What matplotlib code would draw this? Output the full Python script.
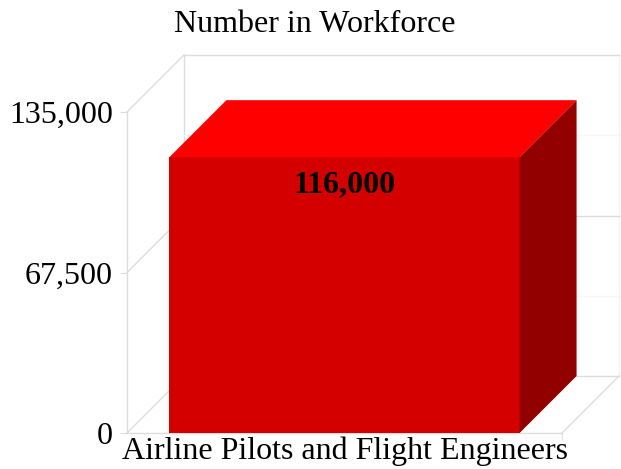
import matplotlib.pyplot as plt
from matplotlib.patches import Polygon
from matplotlib.ticker import FuncFormatter

# ------------------------
# Data
# ------------------------

categories = ["Airline Pilots and Flight Engineers"]
values = [116000]
y_ticks = [0, 67500, 135000]
minor_ticks = [33750, 101250]
title = "Number in Workforce"

FRONT = "#d40000"
TOP = "#ff0000"
SIDE = "#930000"
GRID = "#dcdcdc"
FAINT = "#f5f5f5"

plt.rcParams["font.family"] = ["Liberation Serif", "DejaVu Serif"]

W, H, DPI = 621, 469, 100
fig = plt.figure(figsize=(W / DPI, H / DPI), dpi=DPI)

# front plane of the 3d box, in pixel units of the figure
left, bottom, right, top = 127, 433, 562, 112
ax = fig.add_axes([left / W, 1 - bottom / H, (right - left) / W, (bottom - top) / H])
ax.set_xlim(-0.5, 0.5)
ax.set_ylim(0, y_ticks[-1])
for s in ax.spines.values():
    s.set_visible(False)

# depth of the box, converted from pixels to data units
depth = 57
dx = depth / (right - left) * 1.0
dy = depth / (bottom - top) * y_ticks[-1]
x0, x1 = -0.5, 0.5
ymax = y_ticks[-1]

line_kw = dict(color=GRID, lw=1, clip_on=False, zorder=1)

# left wall and floor
ax.plot([x0, x0], [0, ymax], **line_kw)
ax.plot([x0 + dx, x0 + dx], [dy, ymax + dy], **line_kw)
ax.plot([x1 + dx, x1 + dx], [dy, ymax + dy], color=FAINT, lw=1, clip_on=False, zorder=1)
ax.plot([x0, x1], [0, 0], **line_kw)
ax.plot([x1, x1 + dx], [0, dy], **line_kw)
for v in y_ticks:
    ax.plot([x0, x0 + dx], [v, v + dy], **line_kw)
    ax.plot([x0 + dx, x1 + dx], [v + dy, v + dy], **line_kw)
for v in minor_ticks:
    ax.plot([x0 + dx, x1 + dx], [v + dy, v + dy], color=FAINT, lw=1, clip_on=False, zorder=1)

# bars: front face from the library, top and side faces offset by depth
bar_w = 0.805
bars = ax.bar(range(len(values)), values, width=bar_w, color=FRONT, zorder=3)
for b, v in zip(bars, values):
    bx0 = b.get_x()
    bx1 = bx0 + b.get_width()
    ax.add_patch(Polygon([(bx0, v), (bx1, v), (bx1 + dx, v + dy), (bx0 + dx, v + dy)],
                         closed=True, facecolor=TOP, edgecolor="none", zorder=3, clip_on=False))
    ax.add_patch(Polygon([(bx1, 0), (bx1 + dx, dy), (bx1 + dx, v + dy), (bx1, v)],
                         closed=True, facecolor=SIDE, edgecolor="none", zorder=3, clip_on=False))
    ax.annotate(f"{v:,}", xy=(b.get_x() + b.get_width() / 2, v), xytext=(0, -20),
                textcoords="offset points", ha="center", va="center",
                fontsize=23, fontweight="bold", color="black", zorder=4)

# axes ticks
ax.set_yticks(y_ticks)
ax.yaxis.set_major_formatter(FuncFormatter(lambda v, p: f"{int(v):,}"))
ax.tick_params(axis="y", length=5, color=GRID, pad=5, labelsize=23)
ax.set_xticks(range(len(categories)))
ax.set_xticklabels(categories)
ax.tick_params(axis="x", length=0, pad=2.5, labelsize=23)
ax.set_xticks([x1], minor=True)
ax.tick_params(axis="x", which="minor", length=5, color=GRID)

fig.text(315 / W, 1 - 25 / H, title, ha="center", va="center", fontsize=23)

fig.savefig("out.png", dpi=DPI)
